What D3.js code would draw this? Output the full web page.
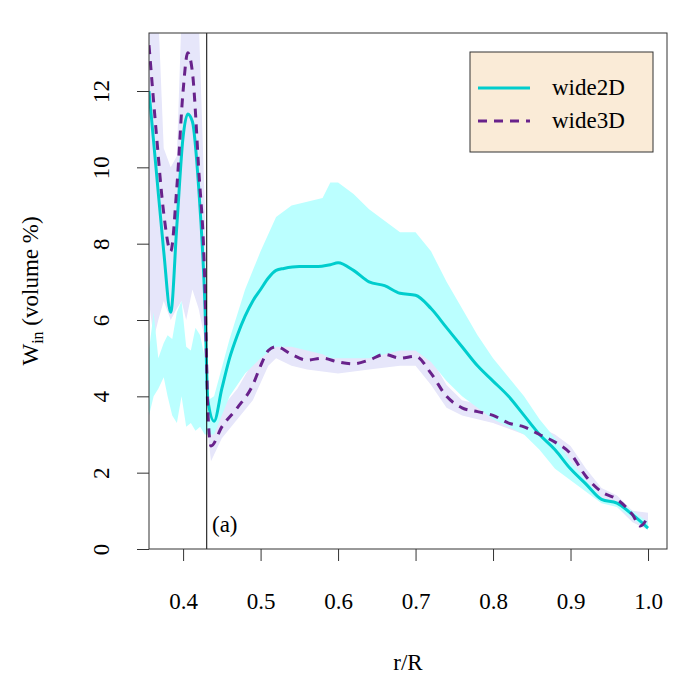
<!DOCTYPE html><html><head><meta charset="utf-8"><script src="https://d3js.org/d3.v7.min.js"></script>
<style>body{margin:0;background:#fff}svg text{font-family:"Liberation Serif","DejaVu Serif",serif !important}</style></head><body>
<svg id="c" width="700" height="700"></svg>
<script>
const xTicks=[0.4,0.5,0.6,0.7,0.8,0.9,1.0];
const yTicks=[0,2,4,6,8,10,12];
const series=["wide2D","wide3D"];
// wide2D mean
const r2D=[0.356,0.365,0.375,0.384,0.392,0.400,0.406,0.412,0.420,0.428,0.432,0.440,0.450,0.460,0.470,0.480,0.490,0.500,0.510,0.520,0.530,0.550,0.570,0.590,0.600,0.620,0.640,0.660,0.680,0.700,0.720,0.740,0.760,0.780,0.800,0.820,0.840,0.860,0.880,0.900,0.920,0.940,0.960,0.980,1.000];
const w2D=[12.0,10.0,7.8,6.2,8.5,10.8,11.4,11.2,9.5,6.5,3.9,3.35,4.2,5.0,5.6,6.1,6.5,6.8,7.1,7.3,7.35,7.4,7.4,7.45,7.5,7.3,7.0,6.9,6.7,6.65,6.3,5.8,5.3,4.8,4.4,4.0,3.5,3.0,2.6,2.1,1.7,1.3,1.2,0.9,0.55];
// wide2D band
const b2Dr=[0.356,0.362,0.368,0.375,0.380,0.386,0.392,0.398,0.404,0.410,0.416,0.422,0.428,0.432,0.440,0.460,0.480,0.500,0.520,0.540,0.560,0.580,0.590,0.600,0.620,0.640,0.660,0.680,0.700,0.720,0.740,0.760,0.780,0.800,0.820,0.840,0.860,0.880,0.900,0.920,0.940,0.960,0.980,1.000];
const b2Dhi=[5.2,6.2,5.0,5.4,5.6,5.5,6.2,6.5,5.3,5.2,5.8,5.6,5.0,3.9,4.0,5.5,6.8,7.8,8.7,9.0,9.1,9.2,9.6,9.6,9.3,8.9,8.6,8.3,8.3,7.8,7.0,6.3,5.6,5.0,4.5,4.0,3.4,2.9,2.3,1.8,1.35,1.2,1.0,0.7];
const b2Dlo=[3.5,4.0,4.2,4.5,4.0,3.5,3.3,4.0,3.2,3.3,3.1,3.2,3.0,3.0,3.0,4.0,4.6,5.0,5.3,5.3,5.2,5.1,5.0,5.0,5.0,5.0,5.1,5.2,5.2,4.9,4.4,4.0,3.7,3.4,3.2,3.0,2.6,2.1,1.8,1.5,1.2,1.1,0.8,0.5];
// wide3D mean
const r3D=[0.356,0.365,0.375,0.384,0.392,0.400,0.406,0.412,0.420,0.428,0.432,0.436,0.450,0.470,0.490,0.500,0.510,0.520,0.540,0.560,0.580,0.600,0.620,0.640,0.660,0.680,0.700,0.720,0.740,0.760,0.780,0.800,0.820,0.840,0.860,0.880,0.900,0.920,0.940,0.960,0.980,0.990,1.000];
const w3D=[13.2,11.0,8.8,7.8,9.5,12.0,13.0,12.5,10.0,7.0,3.6,2.7,3.2,3.7,4.3,4.8,5.2,5.3,5.1,4.95,5.0,4.9,4.85,4.95,5.1,5.0,5.05,4.6,4.0,3.7,3.6,3.5,3.3,3.2,3.0,2.8,2.5,1.9,1.5,1.3,0.9,0.6,0.85];
// wide3D band
const b3Dr=[0.356,0.362,0.368,0.375,0.384,0.392,0.398,0.404,0.412,0.420,0.428,0.432,0.436,0.450,0.470,0.490,0.510,0.520,0.540,0.560,0.600,0.640,0.680,0.700,0.720,0.740,0.760,0.800,0.840,0.880,0.900,0.920,0.940,0.960,0.980,1.000];
const b3Dhi=[14,14,14,10.5,10.0,10.3,14,14,14,14,9.0,4.2,3.3,3.7,4.2,4.9,5.5,5.6,5.5,5.3,5.2,5.3,5.4,5.4,5.0,4.3,3.9,3.7,3.4,3.0,2.7,2.1,1.6,1.4,1.0,0.95];
const b3Dlo=[6.5,5.5,6.0,6.5,6.0,6.3,6.5,6.0,6.8,6.3,5.5,3.0,2.3,2.9,3.4,3.9,4.8,5.0,4.8,4.7,4.6,4.7,4.8,4.8,4.3,3.7,3.5,3.3,3.0,2.6,2.3,1.7,1.3,1.1,0.7,0.5];

const svg=d3.select("#c");
const L=149,R=667,T=33,B=549,FS=23;
const x=d3.scaleLinear().domain([0.356,1.0245]).range([L,R]);
const y=d3.scaleLinear().domain([0,13.52]).range([B,T]);
svg.append("clipPath").attr("id","cp").append("rect").attr("x",L).attr("y",T).attr("width",R-L).attr("height",B-T);
const g=svg.append("g").attr("clip-path","url(#cp)");
const z=(rs,a,b)=>rs.map((r,i)=>[r,a[i],b[i]]);
const area=d3.area().x(d=>x(d[0])).y0(d=>y(d[2])).y1(d=>y(d[1])).curve(d3.curveLinear);
g.append("path").attr("d",area(z(b3Dr,b3Dhi,b3Dlo))).attr("fill","#E6E6FA");
g.append("path").attr("d",area(z(b2Dr,b2Dhi,b2Dlo))).attr("fill","#BBFFFF");
const line=d3.line().x(d=>x(d[0])).y(d=>y(d[1])).curve(d3.curveMonotoneX);
g.append("path").attr("d",line(r2D.map((r,i)=>[r,w2D[i]]))).attr("fill","none").attr("stroke","#00CDCD").attr("stroke-width",3);
g.append("path").attr("d",line(r3D.map((r,i)=>[r,w3D[i]]))).attr("fill","none").attr("stroke","#68228B").attr("stroke-width",3).attr("stroke-dasharray","9,7");
svg.append("line").attr("x1",x(0.4305)).attr("x2",x(0.4305)).attr("y1",T).attr("y2",B).attr("stroke","#000").attr("stroke-width",1);
svg.append("rect").attr("x",L).attr("y",T).attr("width",R-L).attr("height",B-T).attr("fill","none").attr("stroke","#333").attr("stroke-width",1);
const xa=svg.append("g").attr("transform",`translate(0,${B})`).call(d3.axisBottom(x).tickValues(xTicks).tickFormat(d3.format(".1f")).tickSize(12).tickPadding(32));
const ya=svg.append("g").attr("transform",`translate(${L},0)`).call(d3.axisLeft(y).tickValues(yTicks).tickSize(12));
[xa,ya].forEach(a=>{a.attr("font-family",null);a.select(".domain").remove();a.selectAll("line").attr("stroke","#333");a.selectAll("text").attr("font-size",FS).attr("fill","#000");});
ya.selectAll(".tick text").attr("text-anchor","middle").attr("x",0).attr("dy",0).attr("y",0).attr("transform","translate(-40,0) rotate(-90)");
svg.append("text").attr("x",408).attr("y",670).attr("text-anchor","middle").attr("font-size",FS).text("r/R");
const yl=svg.append("text").attr("transform","translate(38,291) rotate(-90)").attr("text-anchor","middle").attr("font-size",FS);
yl.append("tspan").text("W");yl.append("tspan").attr("font-size",16).attr("dy",5).text("in");yl.append("tspan").attr("dy",-5).text(" (volume %)");
svg.append("text").attr("x",212).attr("y",532).attr("font-size",FS).text("(a)");
const lg=svg.append("g");
lg.append("rect").attr("x",470).attr("y",52).attr("width",183).attr("height",100).attr("fill","#FAEBD7").attr("stroke","#333");
[["wide2D","#00CDCD",null,88],["wide3D","#68228B","9,7",121]].forEach(([n,c,da,yy])=>{
 lg.append("line").attr("x1",478).attr("x2",530).attr("y1",yy).attr("y2",yy).attr("stroke",c).attr("stroke-width",3).attr("stroke-dasharray",da);
 lg.append("text").attr("x",552).attr("y",yy+7).attr("font-size",FS).text(n);});
</script></body></html>
